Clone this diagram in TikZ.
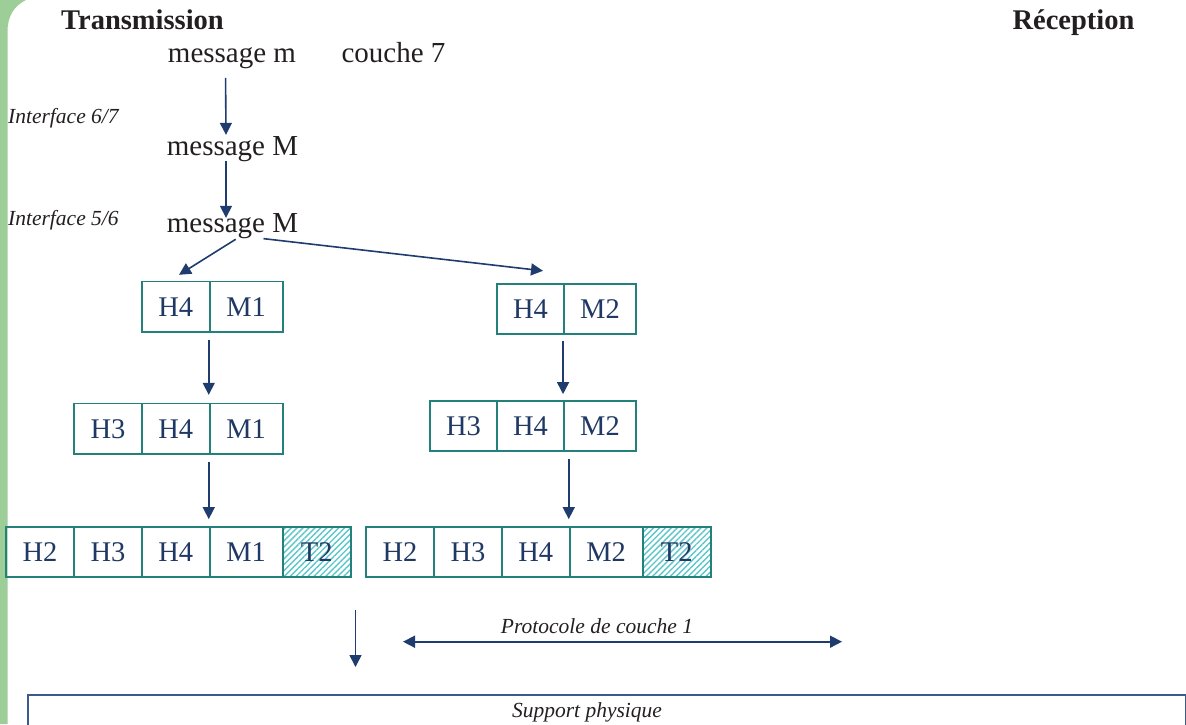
\documentclass[tikz,border=0pt]{standalone}
\usepackage{fontspec}
\setmainfont{Liberation Serif}
\usetikzlibrary{arrows.meta,patterns.meta}

\definecolor{navy}{HTML}{1F3C6E}
\definecolor{cellblue}{HTML}{1F3864}
\definecolor{tealb}{HTML}{24807A}
\definecolor{hatchc}{HTML}{5CC6C8}
\definecolor{barg}{HTML}{9DCE98}
\definecolor{ink}{HTML}{231F20}
\definecolor{supb}{HTML}{3A5A8C}

\newcommand\fBig{\fontsize{29}{34}\selectfont}
\newcommand\fCell{\fontsize{28.5}{33}\selectfont}
\newcommand\fNote{\fontsize{21.5}{26}\selectfont\itshape}
\newcommand\fTitle{\fontsize{28.5}{34}\selectfont\bfseries}

\tikzset{
  cell/.style={draw=tealb, line width=1.9pt, minimum height=50.5pt,
    inner sep=0pt, font=\fCell, text=cellblue},
  wcell/.style={cell, minimum width=#1},
  hatchcell/.style={cell, minimum width=68pt,
    preaction={fill=white},
    pattern={Lines[angle=45,distance=4.2pt,line width=1.4pt]},
    pattern color=hatchc},
  msg/.style={font=\fBig, text=ink, inner sep=0pt, anchor=base},
  note/.style={font=\fNote, text=ink, inner sep=0pt},
  title/.style={font=\fTitle, text=ink, inner sep=0pt, anchor=base},
  arr/.style={draw=navy, line width=1.6pt,
    -{Triangle[length=12pt,width=12pt]}},
  darr/.style={draw=navy, line width=1.6pt,
    {Triangle[length=12pt,width=12pt]}-{Triangle[length=12pt,width=12pt]}},
}

\begin{document}
\begin{tikzpicture}[x=1pt,y=-1pt]
\useasboundingbox (0,0) rectangle (1186,724);
\clip (0,0) rectangle (1186,724);

% green margin strip with its rounded top
\fill[barg] (0,0) -- (26,0) .. controls (14,6) and (7.5,16) .. (7.5,32)
  -- (7.5,724) -- (0,724) -- cycle;

% headings
\node[title] (tx) at (142.5,29) {Transmission};
\node[title] (rx) at (1073.5,29) {Réception};

% upper layers
\node[msg] (mm) at (232,62) {message m};
\node[msg] (c7) at (393.5,62) {couche 7};
\node[msg] (mMa) at (232.5,155) {message M};
\node[msg] (mMb) at (232.5,232) {message M};
\node[note, anchor=base west] (i67) at (8,123) {Interface 6/7};
\node[note, anchor=base west] (i56) at (8,225) {Interface 5/6};

\draw[arr, shorten <=9.5pt, shorten >=1pt] ([xshift=-6.5pt]mm.south) -- ([xshift=-6.5pt]mMa.north);
\draw[arr, shorten >=-5pt] ([xshift=-6.5pt]mMa.south) -- ([xshift=-6.5pt]mMb.north);

% left branch
\node[wcell=67.5pt] (L1H4) at (175.75,306.7) {H4};
\node[wcell=73pt]   (L1M1) at (246.2,306.7) {M1};

\node[wcell=68pt]   (L2H3) at (108,428.7) {H3};
\node[wcell=67.5pt] (L2H4) at (175.75,428.7) {H4};
\node[wcell=73pt]   (L2M1) at (246.2,428.7) {M1};

\node[wcell=68pt]   (L3H2) at (40,552) {H2};
\node[wcell=68pt]   (L3H3) at (108,552) {H3};
\node[wcell=67.5pt] (L3H4) at (175.75,552) {H4};
\node[wcell=73pt]   (L3M1) at (246.2,552) {M1};
\node[hatchcell]    (L3T2) at (316.7,552) {T2};

% right branch
\node[wcell=67pt]   (R1H4) at (530.5,309) {H4};
\node[wcell=72pt]   (R1M2) at (600,309) {M2};

\node[wcell=67pt]   (R2H3) at (463.5,426) {H3};
\node[wcell=67pt]   (R2H4) at (530.5,426) {H4};
\node[wcell=72pt]   (R2M2) at (600,426) {M2};

\node[wcell=68pt]   (R3H2) at (400,552) {H2};
\node[wcell=68pt]   (R3H3) at (468,552) {H3};
\node[wcell=67.7pt] (R3H4) at (535.8,552) {H4};
\node[wcell=73pt]   (R3M2) at (606.2,552) {M2};
\node[hatchcell]    (R3T2) at (676.7,552) {T2};

% segmentation of the message
\draw[arr, shorten <=1.5pt] ([xshift=4.5pt]mMb.south) -- ([xshift=3.25pt,yshift=5.7pt]L1H4.north);
\draw[arr, shorten <=1.5pt] ([xshift=29.5pt]mMb.south) -- ([xshift=12.5pt,yshift=12pt]R1H4.north);

% encapsulation steps
\draw[arr, shorten <=7.3pt, shorten >=7.7pt] (L1M1.south west) -- (L2M1.north west);
\draw[arr, shorten <=7pt, shorten >=6.7pt] (L2M1.south west) -- (L3M1.north west);
\draw[arr, shorten <=5.3pt, shorten >=5.7pt] (R1M2.south west) -- (R2M2.north west);
\draw[arr, shorten <=7pt, shorten >=6.7pt] (R2M2.south west -| R3M2.north west) -- (R3M2.north west);

% physical medium
\node[draw=supb, line width=2.2pt, anchor=north west, inner sep=0pt,
  minimum width=1158pt, minimum height=60pt] (support) at (27,694) {};
\node[note, anchor=base] (suplbl) at (587,717) {Support physique};

\coordinate (dn1) at (355.5,610);
\coordinate (dn2) at (355.5,667);
\draw[arr] (dn1) -- (dn2);

\coordinate (pl) at (403,641.7);
\coordinate (pr) at (842,641.7);
\draw[darr] (pl) -- (pr);
\node[note, anchor=base] (proto) at (597,633.3) {Protocole de couche 1};
\end{tikzpicture}
\end{document}
